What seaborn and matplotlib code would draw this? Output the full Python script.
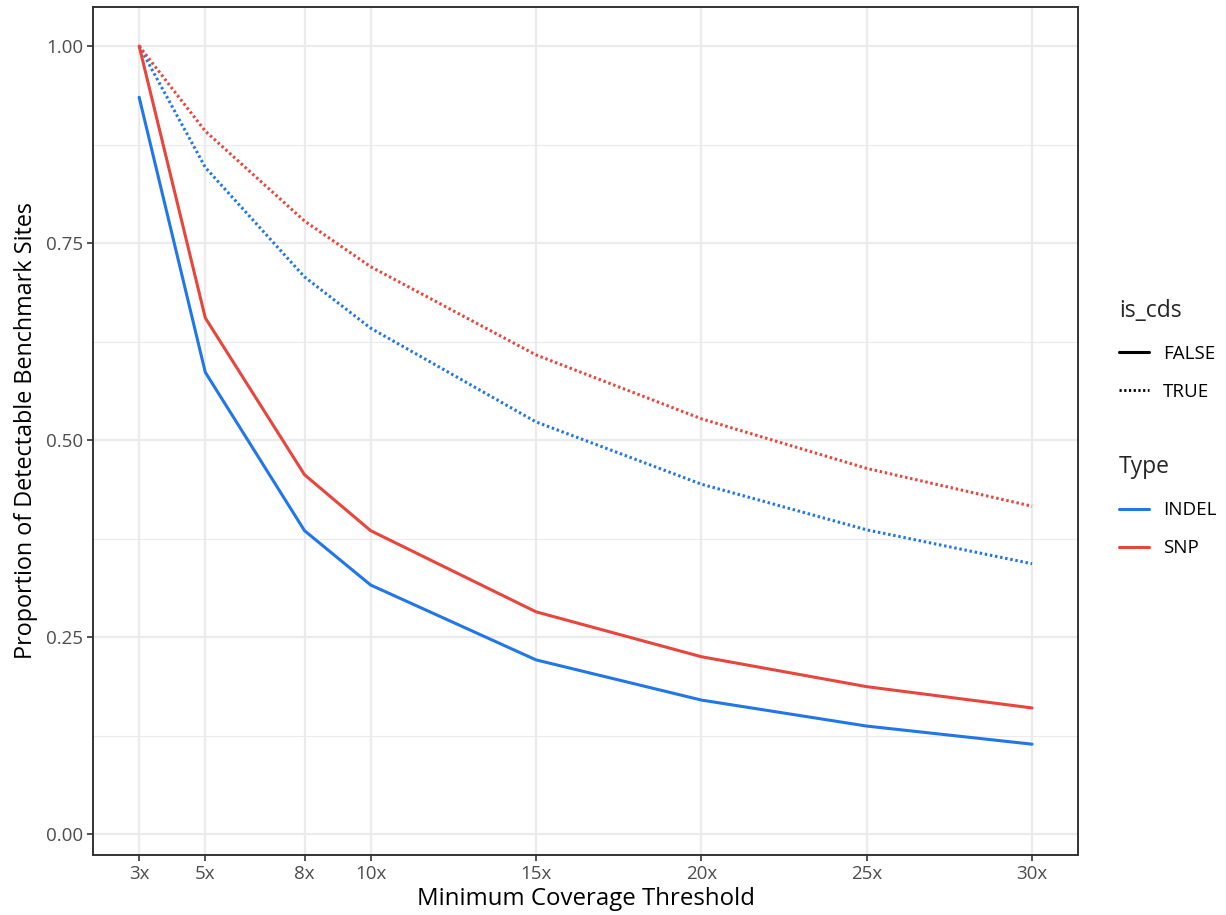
import matplotlib
matplotlib.use("Agg")
import matplotlib.pyplot as plt
from matplotlib.lines import Line2D
import seaborn as sns
import pandas as pd

# ---------------------------------------------------------------------------
# Data
# ---------------------------------------------------------------------------
coverage = [3, 5, 8, 10, 15, 20, 25, 30]
tick_labels = ["3x", "5x", "8x", "10x", "15x", "20x", "25x", "30x"]

snp_false = [1.000, 0.655, 0.456, 0.385, 0.282, 0.225, 0.187, 0.160]
indel_false = [0.935, 0.586, 0.385, 0.316, 0.221, 0.170, 0.137, 0.114]
snp_true = [1.000, 0.892, 0.778, 0.720, 0.608, 0.527, 0.464, 0.416]
indel_true = [1.000, 0.846, 0.707, 0.642, 0.523, 0.444, 0.386, 0.343]

BLUE = "#2176E8"
RED = "#E8453C"
TEXT = "#4D4D4D"
FRAME = "#333333"
DOT = (0, (0.8, 0.9))

series = [
    ("SNP", "FALSE", snp_false),
    ("INDEL", "FALSE", indel_false),
    ("SNP", "TRUE", snp_true),
    ("INDEL", "TRUE", indel_true),
]
rows = []
for typ, cds, vals in series:
    for c, v in zip(coverage, vals):
        rows.append({"coverage": c, "prop": v, "Type": typ, "is_cds": cds})
df = pd.DataFrame(rows)

sns.set_theme(style="white")
plt.rcParams["font.family"] = ["Open Sans", "DejaVu Sans"]

fig = plt.figure(figsize=(12.26, 9.15), dpi=100)
ax = fig.add_axes([0.0759, 0.0656, 0.8034, 0.9267])

sns.lineplot(
    data=df, x="coverage", y="prop", hue="Type", style="is_cds",
    palette={"INDEL": BLUE, "SNP": RED},
    dashes={"FALSE": "", "TRUE": (0.8, 0.9)},
    style_order=["FALSE", "TRUE"], hue_order=["INDEL", "SNP"],
    linewidth=2.2, ax=ax, legend=False, estimator=None, sort=False,
)

ax.set_xlim(1.606, 31.39)
ax.set_ylim(-0.0266, 1.0495)
ax.set_xticks(coverage)
ax.set_xticklabels(tick_labels)
ax.set_yticks([0, 0.25, 0.5, 0.75, 1.0])
ax.set_yticklabels(["0.00", "0.25", "0.50", "0.75", "1.00"])
ax.set_yticks([0.125, 0.375, 0.625, 0.875], minor=True)

ax.grid(True, which="major", color="#EBEBEB", linewidth=1.6)
ax.grid(True, which="minor", axis="y", color="#EBEBEB", linewidth=0.8)
ax.set_axisbelow(True)
for sp in ax.spines.values():
    sp.set_color(FRAME)
    sp.set_linewidth(1.4)

ax.tick_params(axis="both", which="major", direction="out", length=4,
               width=1.2, color=FRAME, labelcolor=TEXT, labelsize=13.5, pad=3,
               bottom=True, left=True)
ax.tick_params(axis="both", which="minor", length=0)

ax.set_xlabel("Minimum Coverage Threshold", fontsize=17.3, color="black", labelpad=3)
ax.set_ylabel("Proportion of Detectable Benchmark Sites", fontsize=16.8,
              color="black", labelpad=6)

# two separate legends, ggplot style
common = dict(loc="upper left", frameon=False, fontsize=13.5, title_fontsize=16.5,
              handlelength=1.6, handletextpad=0.75, labelspacing=1.05,
              alignment="left")
cds_handles = [
    Line2D([], [], color="black", linewidth=2.2, linestyle="-"),
    Line2D([], [], color="black", linewidth=2.0, linestyle=DOT),
]
leg1 = fig.legend(cds_handles, ["FALSE", "TRUE"], title="is_cds",
                  bbox_to_anchor=(0.899, 0.692), **common)
type_handles = [
    Line2D([], [], color=BLUE, linewidth=2.2),
    Line2D([], [], color=RED, linewidth=2.2),
]
leg2 = fig.legend(type_handles, ["INDEL", "SNP"], title="Type",
                  bbox_to_anchor=(0.899, 0.521), **common)
for leg in (leg1, leg2):
    leg._legend_box.sep = 16
    for t in leg.get_texts():
        t.set_color("black")

fig.savefig("out.png", dpi=100)
